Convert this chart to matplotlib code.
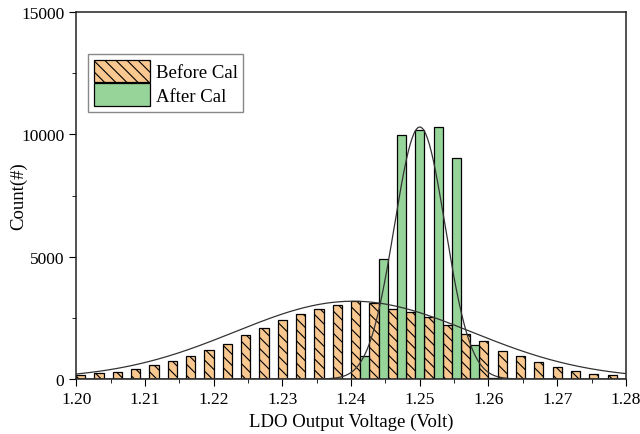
import numpy as np
import matplotlib.pyplot as plt
from matplotlib.ticker import MultipleLocator

plt.rcParams['font.family'] = ['Liberation Serif', 'DejaVu Serif']
plt.rcParams['hatch.linewidth'] = 0.8

# histogram bins: 30 bins from 1.20 to 1.28
x_min, x_max, n_bins = 1.20, 1.28, 30

before_counts = [175, 230, 300, 410, 570, 720, 940, 1200, 1450, 1800,
                 2100, 2400, 2640, 2860, 3010, 3180, 3090, 2880, 2720, 2520,
                 2220, 1860, 1540, 1130, 940, 690, 490, 310, 200, 150]
after_counts = [0, 0, 0, 0, 0, 0, 0, 0, 0, 0,
                0, 0, 0, 0, 0, 950, 4920, 9980, 10190, 10320,
                9030, 1400, 60, 0, 0, 0, 0, 0, 0, 0]

# normal fit curves (peak, center, sigma)
before_fit = (3180, 1.2403, 0.0172)
after_fit = (10300, 1.2500, 0.0037)

edges = np.linspace(x_min, x_max, n_bins + 1)
bw = edges[1] - edges[0]

fig = plt.figure(figsize=(6.4, 4.35), dpi=100)
ax = fig.add_axes([0.119, 0.1264, 0.859, 0.8436])

ax.bar(edges[:-1], before_counts, width=bw / 2, align='edge',
       color='#F8C890', edgecolor='black', linewidth=0.9, hatch='\\\\\\',
       label='Before Cal', zorder=2)
ax.bar(edges[:-1] + bw / 2, after_counts, width=bw / 2, align='edge',
       color='#96D49A', edgecolor='black', linewidth=0.9,
       label='After Cal', zorder=2)

xs = np.linspace(x_min, x_max, 600)
for a, mu, s in (before_fit, after_fit):
    ax.plot(xs, a * np.exp(-(xs - mu) ** 2 / (2 * s ** 2)),
            color='#333333', linewidth=0.9, zorder=3)

ax.set_xlim(x_min, x_max)
ax.set_ylim(0, 15000)
ax.xaxis.set_major_locator(MultipleLocator(0.01))
ax.xaxis.set_minor_locator(MultipleLocator(0.005))
ax.yaxis.set_major_locator(MultipleLocator(5000))
ax.yaxis.set_minor_locator(MultipleLocator(2500))
ax.xaxis.set_major_formatter(plt.FormatStrFormatter('%.2f'))
ax.tick_params(which='both', direction='out', labelsize=12.5)
ax.tick_params(which='major', length=5)
ax.tick_params(which='minor', length=3)
for sp in ax.spines.values():
    sp.set_linewidth(1.1)
    sp.set_color('#222222')

ax.set_xlabel('LDO Output Voltage (Volt)', fontsize=13.5)
ax.set_ylabel('Count(#)', fontsize=13.5, va='center')
ax.yaxis.set_label_coords(-0.105, 0.5)

leg = ax.legend(loc='upper left', bbox_to_anchor=(0.022, 0.886), fontsize=13.5,
                fancybox=False, framealpha=1, edgecolor='#888888',
                handlelength=3.0, handleheight=1.5, handletextpad=0.3,
                borderpad=0.3, labelspacing=0.05, borderaxespad=0)

fig.savefig('out.png', dpi=100)
